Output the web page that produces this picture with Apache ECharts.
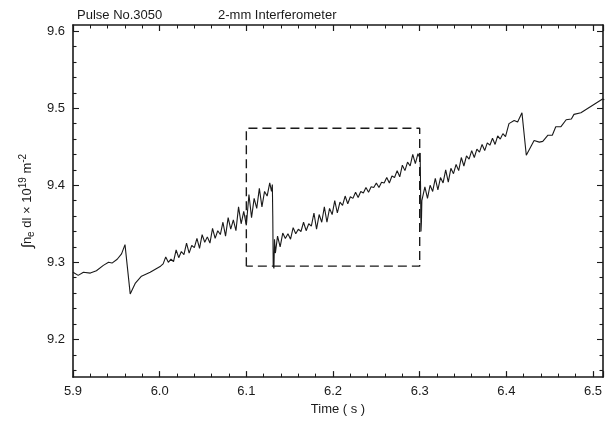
<!DOCTYPE html>
<html>
<head>
<meta charset="utf-8">
<script src="https://cdn.jsdelivr.net/npm/echarts@6/dist/echarts.min.js"></script>
<style>
  html, body { margin: 0; padding: 0; background: #fff; }
  #chart { width: 614px; height: 421px; }
</style>
</head>
<body>
<div id="chart"></div>
<script>
// time (s) and line integral (x 10^19 m^-2)
const timeS = [
  5.900, 5.906, 5.912, 5.920, 5.927, 5.935, 5.941, 5.945, 5.951, 5.956, 5.960, 5.966, 5.972, 5.979, 5.989, 6.001,
  6.004, 6.007, 6.010, 6.013, 6.016, 6.019, 6.022, 6.025, 6.028, 6.031, 6.034, 6.037, 6.040, 6.043, 6.046, 6.049,
  6.052, 6.055, 6.058, 6.061, 6.064, 6.067, 6.070, 6.073, 6.076, 6.079, 6.082, 6.085, 6.088, 6.091, 6.094, 6.097,
  6.100, 6.103, 6.106, 6.109, 6.112, 6.115, 6.118, 6.121, 6.124, 6.127, 6.129, 6.130,
  6.1305, 6.131, 6.1318, 6.1325, 6.1335,
  6.136, 6.139, 6.142, 6.145, 6.148, 6.151, 6.154, 6.157, 6.160, 6.163, 6.166, 6.169, 6.172, 6.175, 6.178, 6.181,
  6.184, 6.187, 6.190, 6.193, 6.196, 6.199, 6.202, 6.205, 6.208, 6.211, 6.214, 6.217, 6.220, 6.223, 6.226, 6.229,
  6.232, 6.235, 6.238, 6.241, 6.244, 6.247, 6.250, 6.253, 6.256, 6.259, 6.262, 6.265, 6.268, 6.271, 6.274, 6.277,
  6.280, 6.283, 6.286, 6.289, 6.292, 6.295, 6.298, 6.300,
  6.3005, 6.301, 6.3015, 6.302, 6.3025,
  6.303, 6.306, 6.309, 6.312, 6.315, 6.318, 6.321, 6.324, 6.327, 6.330, 6.333, 6.336, 6.339, 6.342, 6.345, 6.348,
  6.351, 6.354, 6.357, 6.360, 6.363, 6.366, 6.369, 6.372, 6.375, 6.378, 6.381, 6.384, 6.387, 6.390, 6.393, 6.396, 6.399,
  6.403, 6.409, 6.413, 6.418, 6.423, 6.432, 6.438, 6.442, 6.448, 6.453, 6.457, 6.463, 6.469, 6.475, 6.478, 6.486,
  6.511, 6.513
]
const lineIntegral = [
  9.287, 9.283, 9.287, 9.286, 9.289, 9.296, 9.300, 9.299, 9.304, 9.311, 9.323, 9.259, 9.273, 9.282, 9.287, 9.295,
  9.298, 9.307, 9.300, 9.304, 9.301, 9.316, 9.306, 9.314, 9.310, 9.325, 9.312, 9.322, 9.319, 9.331, 9.318, 9.336,
  9.326, 9.333, 9.325, 9.344, 9.331, 9.341, 9.336, 9.352, 9.334, 9.358, 9.343, 9.355, 9.341, 9.372, 9.350, 9.366,
  9.348, 9.388, 9.358, 9.383, 9.370, 9.396, 9.372, 9.392, 9.386, 9.403, 9.392, 9.401,
  9.360, 9.296, 9.292, 9.330, 9.312,
  9.334, 9.320, 9.338, 9.331, 9.337, 9.330, 9.345, 9.337, 9.343, 9.340, 9.352, 9.341, 9.350, 9.347, 9.364, 9.343,
  9.362, 9.352, 9.372, 9.352, 9.370, 9.362, 9.380, 9.364, 9.378, 9.374, 9.386, 9.376, 9.385, 9.383, 9.391, 9.384,
  9.392, 9.390, 9.397, 9.391, 9.398, 9.397, 9.403, 9.397, 9.404, 9.403, 9.410, 9.403, 9.412, 9.410, 9.419, 9.411,
  9.426, 9.419, 9.430, 9.425, 9.440, 9.428, 9.441, 9.436,
  9.442, 9.400, 9.340, 9.352, 9.380,
  9.378, 9.398, 9.383, 9.400, 9.392, 9.409, 9.394, 9.410, 9.403, 9.420, 9.404, 9.422, 9.415, 9.427, 9.419, 9.436,
  9.425, 9.438, 9.434, 9.445, 9.436, 9.447, 9.443, 9.453, 9.445, 9.455, 9.452, 9.461, 9.453, 9.464, 9.460, 9.467, 9.463,
  9.480, 9.484, 9.482, 9.494, 9.439, 9.458, 9.456, 9.457, 9.465, 9.465, 9.476, 9.476, 9.485, 9.486, 9.492, 9.494,
  9.512, 9.511
]

// dashed window 6.1 - 6.3 s
const boxTime = [6.1, 6.1, 6.3, 6.3, 6.1]
const boxLevel = [9.295, 9.474, 9.474, 9.295, 9.295]

const yMajorTicks = [9.2, 9.3, 9.4, 9.5, 9.6]
const yMinorTicks = [
  9.16, 9.18, 9.22, 9.24, 9.26, 9.28, 9.32, 9.34, 9.36, 9.38,
  9.42, 9.44, 9.46, 9.48, 9.52, 9.54, 9.56, 9.58
]

const ink = '#1a1a1a'
const font = 'Liberation Sans, Arial, sans-serif'

const chart = echarts.init(document.getElementById('chart'))

function xAxisBase(position) {
  return {
    type: 'value',
    position,
    min: 5.9,
    max: 6.5115,
    interval: 0.1,
    axisLine: { show: true, onZero: false, lineStyle: { color: ink, width: 1.6 } },
    axisTick: { show: true, inside: true, length: 6, lineStyle: { color: ink, width: 1.2 } },
    minorTick: { show: true, splitNumber: 5, length: 3.5, lineStyle: { color: ink, width: 1 } },
    splitLine: { show: false },
    minorSplitLine: { show: false }
  }
}

function yAxisBase(position, ticks, len, showLine) {
  return {
    type: 'value',
    position,
    min: 9.151,
    max: 9.608,
    axisLine: { show: showLine, onZero: false, lineStyle: { color: ink, width: 1.6 } },
    axisTick: { show: true, inside: true, length: len, customValues: ticks, lineStyle: { color: ink, width: 1.1 } },
    axisLabel: { show: false },
    splitLine: { show: false }
  }
}

const leftMain = yAxisBase('left', yMajorTicks, 6, true)
leftMain.axisLabel = {
  show: true,
  customValues: yMajorTicks,
  formatter: v => v.toFixed(1),
  color: ink,
  fontSize: 13,
  fontFamily: font,
  margin: 8
}
leftMain.name = '{int|∫}n{sub|e} dl × 10{sup|19} m{sup|-2}'
leftMain.nameLocation = 'middle'
leftMain.nameRotate = 90
leftMain.nameGap = 31
leftMain.nameTextStyle = {
  color: ink,
  fontSize: 13,
  fontFamily: font,
  rich: {
    int: { fontSize: 15, fontFamily: font, color: ink },
    sub: { fontSize: 10, fontFamily: font, color: ink, padding: [7, 0, 0, 0] },
    sup: { fontSize: 10, fontFamily: font, color: ink, padding: [0, 0, 9, 0] }
  }
}

const bottomAxis = xAxisBase('bottom')
bottomAxis.axisLabel = {
  showMaxLabel: false,
  formatter: v => v.toFixed(1),
  color: ink,
  fontSize: 13,
  fontFamily: font,
  margin: 8
}
bottomAxis.name = 'Time ( s )'
bottomAxis.nameLocation = 'middle'
bottomAxis.nameGap = 25
bottomAxis.nameTextStyle = { color: ink, fontSize: 13, fontFamily: font }

const topAxis = xAxisBase('top')
topAxis.axisLabel = { show: false }

const option = {
  animation: false,
  backgroundColor: '#fff',
  title: [
    { text: 'Pulse No.3050', left: 72, top: 4, textStyle: { color: ink, fontSize: 13, fontWeight: 'normal', fontFamily: font } },
    { text: '2-mm Interferometer', left: 213, top: 4, textStyle: { color: ink, fontSize: 13, fontWeight: 'normal', fontFamily: font } }
  ],
  grid: { left: 73, right: 11, top: 25, bottom: 41, containLabel: false },
  xAxis: [bottomAxis, topAxis],
  yAxis: [
    leftMain,
    yAxisBase('left', yMinorTicks, 3.5, false),
    yAxisBase('right', yMajorTicks, 6, true),
    yAxisBase('right', yMinorTicks, 3.5, false)
  ],
  series: [
    {
      type: 'line',
      xAxisIndex: 0,
      yAxisIndex: 0,
      data: timeS.map((t, i) => [t, lineIntegral[i]]),
      showSymbol: false,
      symbol: 'none',
      lineStyle: { color: ink, width: 1.1 }
    },
    {
      type: 'line',
      xAxisIndex: 0,
      yAxisIndex: 0,
      data: boxTime.map((t, i) => [t, boxLevel[i]]),
      showSymbol: false,
      symbol: 'none',
      lineStyle: { color: ink, width: 1.4, type: [9, 5] }
    }
  ]
}

chart.setOption(option)
</script>
</body>
</html>
